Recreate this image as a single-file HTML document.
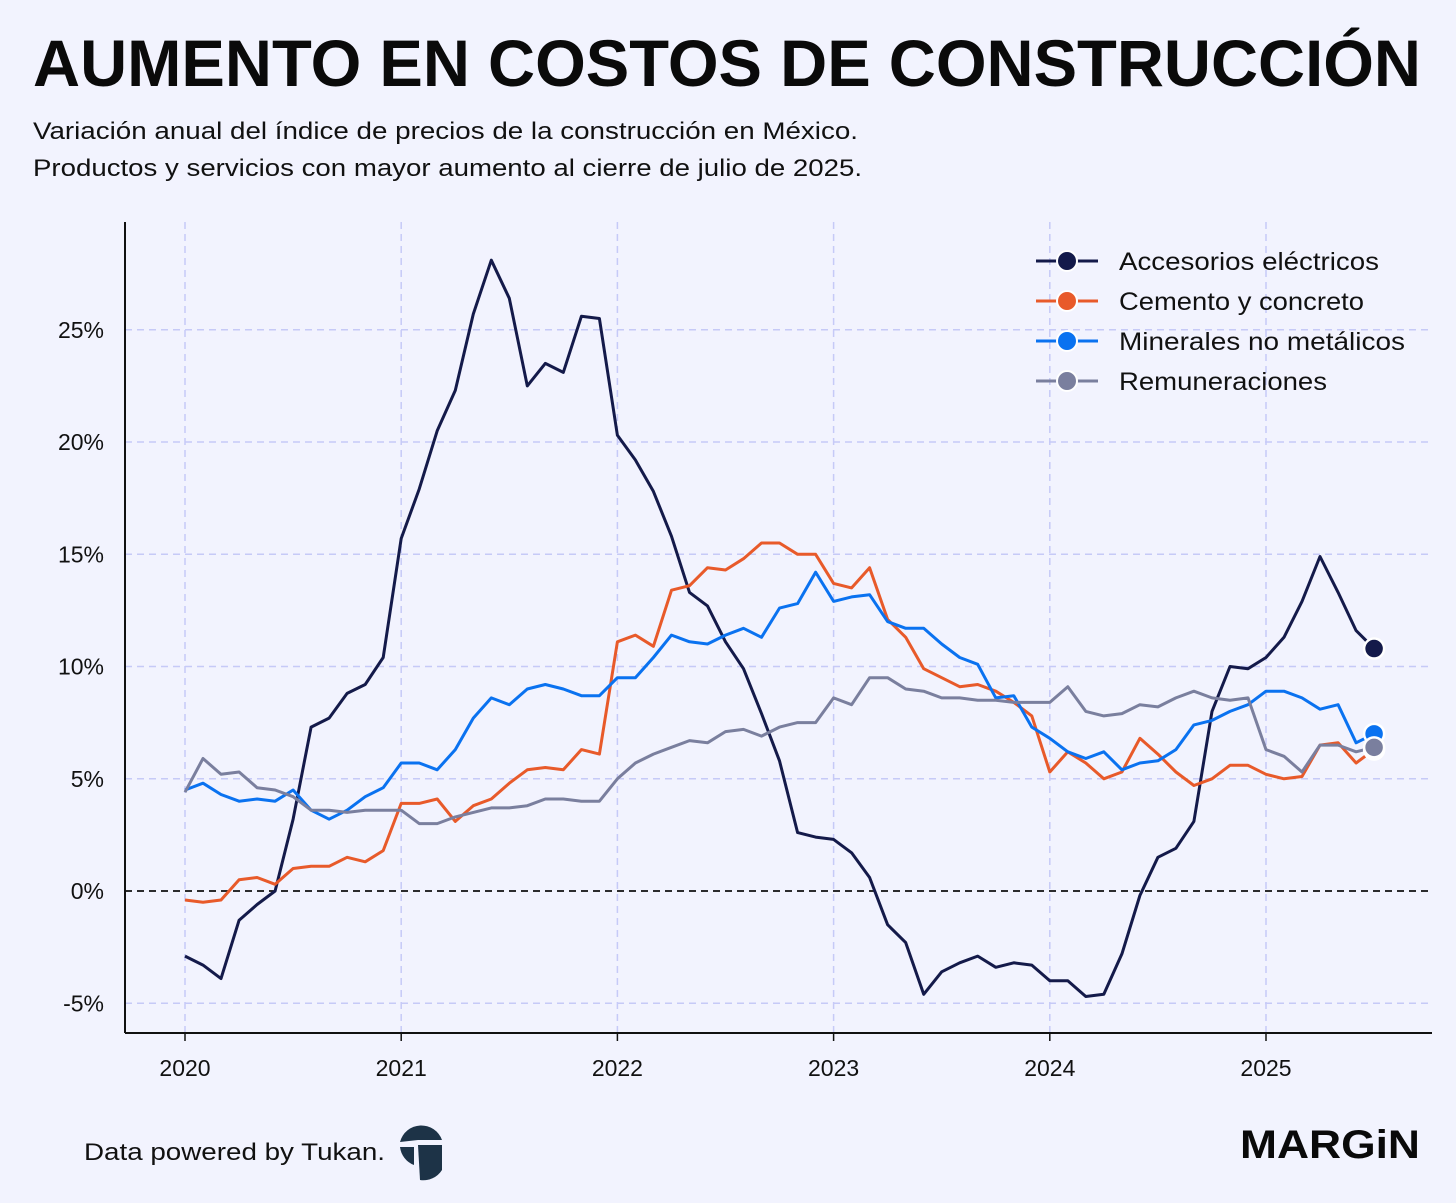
<!DOCTYPE html>
<html><head><meta charset="utf-8"><style>
body{margin:0;background:#f2f3fe;}
svg{display:block;font-family:"Liberation Sans",sans-serif;}
</style></head><body>
<svg width="1456" height="1203" viewBox="0 0 1456 1203">
<rect width="1456" height="1203" fill="#f2f3fe"/>
<text x="33" y="86" font-size="66" font-weight="bold" fill="#0a0a0a" textLength="1388" lengthAdjust="spacingAndGlyphs">AUMENTO EN COSTOS DE CONSTRUCCIÓN</text>
<text x="33" y="139" font-size="24" fill="#111" textLength="825" lengthAdjust="spacingAndGlyphs">Variación anual del índice de precios de la construcción en México.</text>
<text x="33" y="176" font-size="24" fill="#111" textLength="829" lengthAdjust="spacingAndGlyphs">Productos y servicios con mayor aumento al cierre de julio de 2025.</text>
<g id="grid"></g>
<g id="series"></g>
<line x1="125" y1="222" x2="125" y2="1033" stroke="#111" stroke-width="2"/>
<line x1="125" y1="1033" x2="1432" y2="1033" stroke="#111" stroke-width="2"/>
<g id="legend"></g>
<text x="84" y="1160" font-size="24" fill="#111" textLength="301" lengthAdjust="spacingAndGlyphs">Data powered by Tukan.</text>
<g>
<path d="M400 1142 A22 22 0 0 1 442 1140 L418 1140 Z" fill="#1d3347"/>
<path d="M418 1145 L442 1145 L442 1170 A22 22 0 0 1 420 1180 Z" fill="#1d3347"/>
<path d="M400 1147 L414 1147 L414 1165 A22 22 0 0 1 400 1147 Z" fill="#1d3347"/>
</g>
<text x="1240" y="1158" font-size="40" font-weight="bold" fill="#0a0a0a" textLength="180" lengthAdjust="spacingAndGlyphs">MARGiN</text>
</svg>
<script>
const years = ["2020","2021","2022","2023","2024","2025"];
const yTicks = [-5,0,5,10,15,20,25];
const seriesNames = ["Accesorios eléctricos","Cemento y concreto","Minerales no metálicos","Remuneraciones"];
const seriesColors = ["#141a4a","#e85a2a","#0a72f0","#7a7f9e"];
const legendWidths = [260,245,286,208];
const accesorios = [-2.9,-3.3,-3.9,-1.3,-0.6,0.0,3.2,7.3,7.7,8.8,9.2,10.4,
15.7,17.9,20.5,22.3,25.7,28.1,26.4,22.5,23.5,23.1,25.6,25.5,
20.3,19.2,17.8,15.8,13.3,12.7,11.1,9.9,7.9,5.8,2.6,2.4,
2.3,1.7,0.6,-1.5,-2.3,-4.6,-3.6,-3.2,-2.9,-3.4,-3.2,-3.3,
-4.0,-4.0,-4.7,-4.6,-2.8,-0.2,1.5,1.9,3.1,8.0,10.0,9.9,
10.4,11.3,12.9,14.9,13.3,11.6,10.8];
const cemento = [-0.4,-0.5,-0.4,0.5,0.6,0.3,1.0,1.1,1.1,1.5,1.3,1.8,
3.9,3.9,4.1,3.1,3.8,4.1,4.8,5.4,5.5,5.4,6.3,6.1,
11.1,11.4,10.9,13.4,13.6,14.4,14.3,14.8,15.5,15.5,15.0,15.0,
13.7,13.5,14.4,12.1,11.3,9.9,9.5,9.1,9.2,8.9,8.4,7.8,
5.3,6.2,5.7,5.0,5.3,6.8,6.1,5.3,4.7,5.0,5.6,5.6,
5.2,5.0,5.1,6.5,6.6,5.7,6.3];
const minerales = [4.5,4.8,4.3,4.0,4.1,4.0,4.5,3.6,3.2,3.6,4.2,4.6,
5.7,5.7,5.4,6.3,7.7,8.6,8.3,9.0,9.2,9.0,8.7,8.7,
9.5,9.5,10.4,11.4,11.1,11.0,11.4,11.7,11.3,12.6,12.8,14.2,
12.9,13.1,13.2,12.0,11.7,11.7,11.0,10.4,10.1,8.6,8.7,7.3,
6.8,6.2,5.9,6.2,5.4,5.7,5.8,6.3,7.4,7.6,8.0,8.3,
8.9,8.9,8.6,8.1,8.3,6.6,7.0];
const remuneraciones = [4.4,5.9,5.2,5.3,4.6,4.5,4.2,3.6,3.6,3.5,3.6,3.6,
3.6,3.0,3.0,3.3,3.5,3.7,3.7,3.8,4.1,4.1,4.0,4.0,
5.0,5.7,6.1,6.4,6.7,6.6,7.1,7.2,6.9,7.3,7.5,7.5,
8.6,8.3,9.5,9.5,9.0,8.9,8.6,8.6,8.5,8.5,8.4,8.4,
8.4,9.1,8.0,7.8,7.9,8.3,8.2,8.6,8.9,8.6,8.5,8.6,
6.3,6.0,5.3,6.5,6.5,6.2,6.4];
const allSeries = [accesorios,cemento,minerales,remuneraciones];

const NS="http://www.w3.org/2000/svg";
const xScale = m => 185 + m*(216.2/12);
const yScale = v => 891 - v*22.45;
function mk(tag, attrs, parent){const e=document.createElementNS(NS,tag);for(const k in attrs)e.setAttribute(k,attrs[k]);parent.appendChild(e);return e;}
const grid=document.getElementById('grid');
yTicks.forEach(t=>{
  const y=yScale(t);
  if(t!==0){
    const l=mk('line',{x1:125,x2:1432,y1:y,y2:y,stroke:'#c6caf7','stroke-width':1.5,'stroke-dasharray':'7,5'},grid);
    
    
  } else {
    const l=mk('line',{x1:125,x2:1432,y1:y,y2:y,stroke:'#111','stroke-width':1.8,'stroke-dasharray':'7,5'},grid);
    
    
  }
  const tx=mk('text',{x:104,y:y+8,'font-size':23,'text-anchor':'end',fill:'#111'},grid);
  tx.textContent=t+'%';
  
  
});
years.forEach((yr,i)=>{
  const x=xScale(i*12);
  const l=mk('line',{x1:x,x2:x,y1:222,y2:1033,stroke:'#c6caf7','stroke-width':1.5,'stroke-dasharray':'7,5'},grid);
  
  
  mk('line',{x1:x,x2:x,y1:1033,y2:1041,stroke:'#111','stroke-width':1.5},grid);
  const tx=mk('text',{x:x,y:1076,'font-size':23,'text-anchor':'middle',fill:'#111'},grid);
  tx.textContent=yr;
  
  
});
const sg=document.getElementById('series');
allSeries.forEach((s,i)=>{
  const pts=s.map((v,m)=>xScale(m).toFixed(1)+','+yScale(v).toFixed(1)).join(' ');
  const pl=mk('polyline',{points:pts,fill:'none',stroke:seriesColors[i],'stroke-width':3,'stroke-linejoin':'round'},sg);
  
  
});
allSeries.forEach((s,i)=>{
  const m=s.length-1;
  const c=mk('circle',{cx:xScale(m),cy:yScale(s[m]),r:10,fill:seriesColors[i],stroke:'#fff','stroke-width':2.5},sg);
  
  
});
const lg=document.getElementById('legend');
seriesNames.forEach((n,i)=>{
  const y=261+i*40;
  mk('line',{x1:1036,x2:1098,y1:y,y2:y,stroke:seriesColors[i],'stroke-width':3},lg);
  mk('circle',{cx:1067,cy:y,r:10,fill:seriesColors[i],stroke:'#fff','stroke-width':2},lg);
  const t=mk('text',{x:1119,y:y+9,'font-size':25,fill:'#111',textLength:legendWidths[i],lengthAdjust:'spacingAndGlyphs'},lg);
  t.textContent=n;
  
  
});
</script>
</body></html>
